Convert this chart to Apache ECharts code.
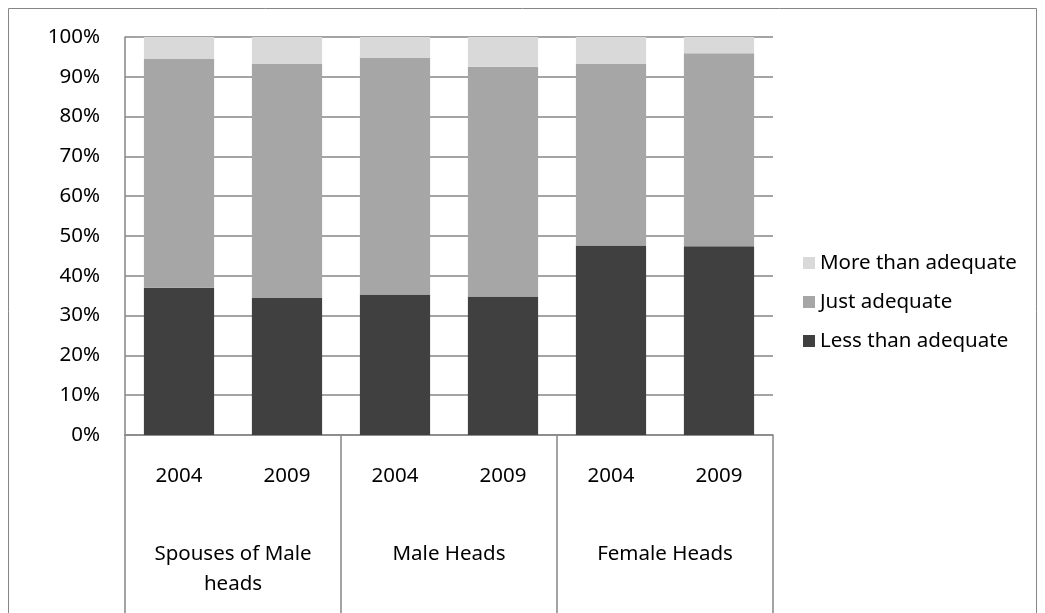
<!DOCTYPE html>
<html>
<head>
<meta charset="utf-8">
<style>
  html, body { margin: 0; padding: 0; background: #fff; }
  #chart { width: 1045px; height: 613px; }
</style>
<script src="https://cdn.jsdelivr.net/npm/echarts@6/dist/echarts.min.js"></script>
</head>
<body>
<div id="chart"></div>
<script>
// --- DATA ---
const years = ['2004', '2009', '2004', '2009', '2004', '2009'];
const groups = ['Spouses of Male\nheads', 'Male Heads', 'Female Heads'];
const lessThanAdequate = [37.0, 34.4, 35.3, 34.8, 47.6, 47.4];
const justAdequate = [57.5, 58.8, 59.4, 57.7, 45.6, 48.5];
const moreThanAdequate = [5.5, 6.8, 5.3, 7.5, 6.8, 4.1];
const yTicks = [0, 10, 20, 30, 40, 50, 60, 70, 80, 90, 100];

const FONT = 'Noto Sans';
const FS = 20.5;
const LINE = '#868686';

const chart = echarts.init(document.getElementById('chart'));

const barSeries = (name, data, color) => ({
    name, type: 'bar', stack: 'total', data,
    barWidth: '65%',
    itemStyle: { color },
    xAxisIndex: 0, yAxisIndex: 0
});

chart.setOption({
    animation: false,
    textStyle: { fontFamily: FONT },
    graphic: [{
        type: 'rect', shape: { x: 8.5, y: 8.5, width: 1028, height: 620 },
        style: { fill: 'none', stroke: LINE, lineWidth: 1 }, silent: true
    }],
    grid: { left: 125, top: 37, width: 648, height: 398 },
    legend: {
        orient: 'vertical', left: 798, top: 244,
        itemWidth: 12, itemHeight: 12, itemGap: 11,
        data: ['More than adequate', 'Just adequate', 'Less than adequate'],
        textStyle: { fontSize: FS, color: '#000', fontFamily: FONT, lineHeight: 28 },
        icon: 'rect'
    },
    xAxis: [{
        type: 'category', data: years, position: 'bottom',
        axisLine: { show: true, lineStyle: { color: LINE, width: 1.5 } },
        axisTick: { show: false },
        axisLabel: { margin: 31, fontSize: FS, color: '#000', interval: 0 }
    }, {
        type: 'category', data: groups, position: 'bottom',
        axisLine: { show: false },
        axisTick: { show: true, length: 190, inside: false, interval: 0, lineStyle: { color: LINE, width: 1.5 } },
        axisLabel: { margin: 104, fontSize: FS, color: '#000', interval: 0, lineHeight: 30 }
    }],
    yAxis: {
        type: 'value', min: yTicks[0], max: yTicks[yTicks.length - 1], interval: 10,
        axisLine: { show: true, lineStyle: { color: LINE, width: 1.5 } },
        axisTick: { show: false },
        splitLine: { show: true, lineStyle: { color: LINE, width: 1.5 } },
        axisLabel: { formatter: '{value}%', fontSize: FS, color: '#000', margin: 25 }
    },
    series: [
        barSeries('Less than adequate', lessThanAdequate, '#404040'),
        barSeries('Just adequate', justAdequate, '#a6a6a6'),
        barSeries('More than adequate', moreThanAdequate, '#d9d9d9')
    ]
});
</script>
</body>
</html>
